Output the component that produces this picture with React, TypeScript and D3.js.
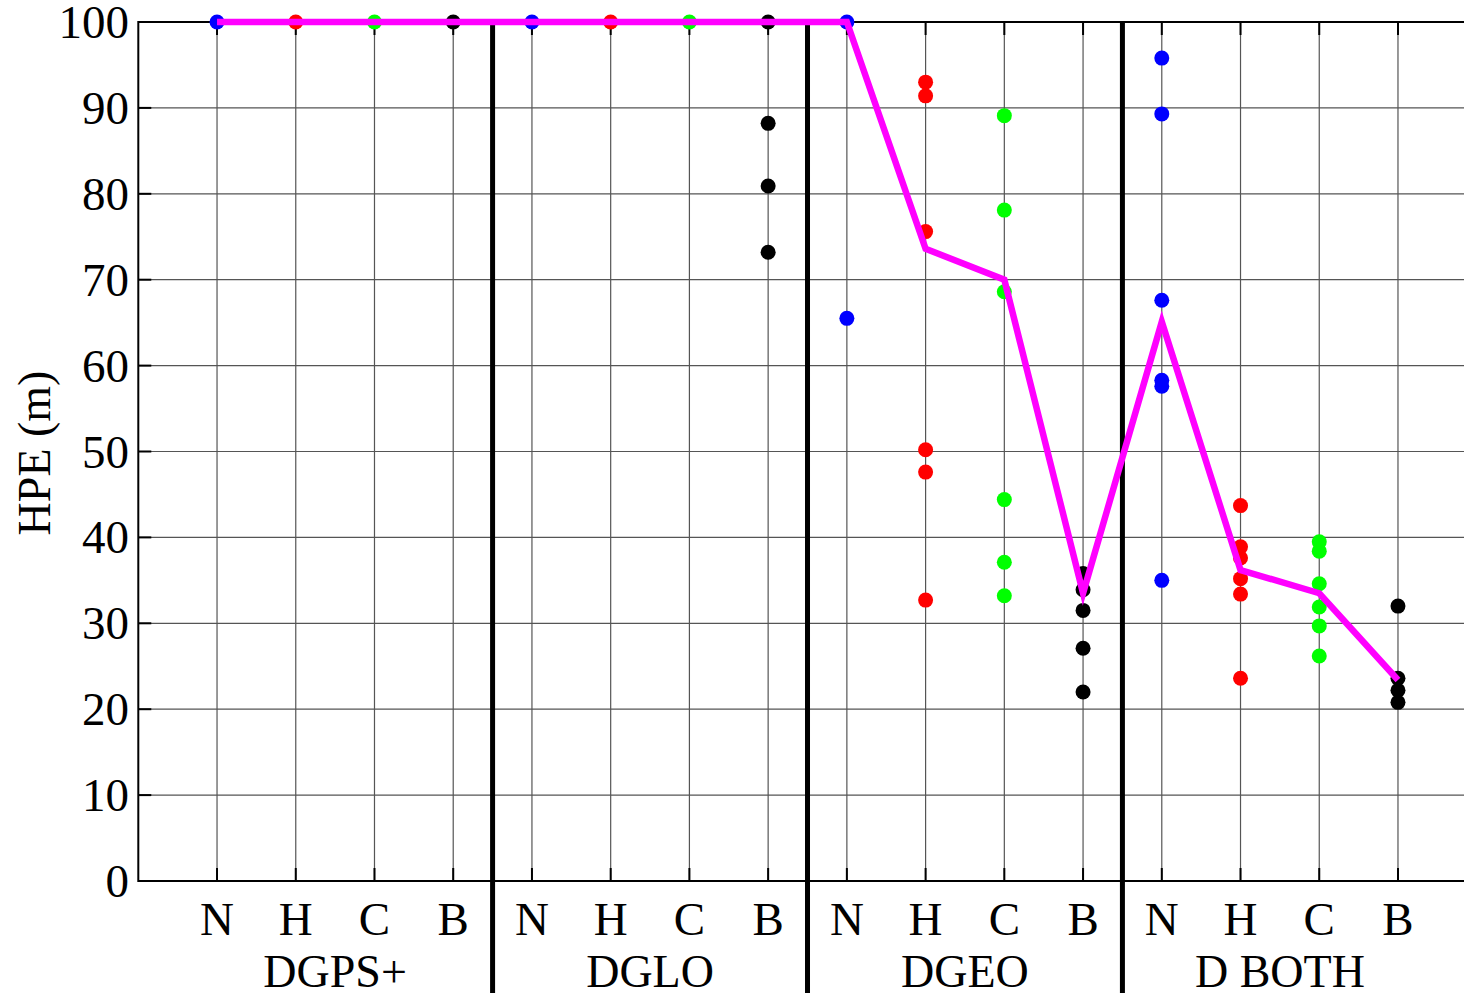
import React from "react";
import * as d3 from "d3";

const groups = ["DGPS+", "DGLO", "DGEO", "D BOTH"];
const conditions = ["N", "H", "C", "B"];
const conditionColors = ["#0000ff", "#ff0000", "#00ff00", "#000000"];
const yTicks = [0, 10, 20, 30, 40, 50, 60, 70, 80, 90, 100];

// per group: per condition: observed HPE values
const dgpsValues: number[][] = [[100], [100], [100], [100]];
const dgloValues: number[][] = [[100], [100], [100], [100, 88.2, 80.9, 73.2]];
const dgeoValues: number[][] = [
  [100, 65.5],
  [93.0, 91.4, 75.6, 50.2, 47.6, 32.7],
  [89.1, 78.1, 68.6, 44.4, 37.1, 33.2],
  [35.8, 33.9, 31.5, 27.1, 22.0],
];
const dbothValues: number[][] = [
  [95.8, 89.3, 67.6, 58.3, 57.6, 35.0],
  [43.7, 38.9, 37.6, 35.2, 33.4, 23.6],
  [39.5, 38.4, 34.6, 31.9, 29.7, 26.2],
  [32.0, 23.6, 22.2, 20.8],
];
const meanLine = [100, 100, 100, 100, 100, 100, 100, 100, 100, 73.6, 70.0, 33.5, 65.1, 36.2, 33.5, 23.4];

const allValues = [dgpsValues, dgloValues, dgeoValues, dbothValues];

const W = 1464;
const H = 993;
const left = 138.3;
const top = 22;
const bottom = 881;
const step = 78.73;

export default function App() {
  const x = d3.scaleLinear().domain([0, 17]).range([left, left + 17 * step]);
  const y = d3.scaleLinear().domain([0, 100]).range([bottom, top]);
  const nPos = groups.length * conditions.length;
  const positions = d3.range(1, nPos + 1);
  const line = d3
    .line<number>()
    .x((_, i) => x(i + 1))
    .y((d) => y(d));

  const points: { px: number; v: number; color: string }[] = [];
  allValues.forEach((g, gi) =>
    g.forEach((vals, ci) =>
      vals.forEach((v) => points.push({ px: gi * 4 + ci + 1, v, color: conditionColors[ci] }))
    )
  );

  const font = "'Liberation Serif', 'Times New Roman', serif";
  const grid = "#555";

  return (
    <svg
      width={W}
      height={H}
      style={{ position: "absolute", left: 0, top: 0, background: "#fff" }}
      fontFamily={font}
    >
      <rect x={0} y={0} width={W} height={H} fill="#fff" />
      {/* horizontal grid */}
      {yTicks.map((t) => (
        <line key={"hg" + t} x1={left} x2={W} y1={y(t)} y2={y(t)} stroke={grid} strokeWidth={1.2} />
      ))}
      {/* vertical grid */}
      {positions.map((p) => (
        <line key={"vg" + p} x1={x(p)} x2={x(p)} y1={top} y2={bottom} stroke={grid} strokeWidth={1.2} />
      ))}
      {/* ticks */}
      {yTicks.map((t) => (
        <line key={"yt" + t} x1={left} x2={left + 13} y1={y(t)} y2={y(t)} stroke="#000" strokeWidth={2} />
      ))}
      {positions.map((p) => (
        <g key={"xt" + p}>
          <line x1={x(p)} x2={x(p)} y1={top} y2={top + 13} stroke="#000" strokeWidth={2} />
          <line x1={x(p)} x2={x(p)} y1={bottom} y2={bottom - 13} stroke="#000" strokeWidth={2} />
        </g>
      ))}
      {/* axes */}
      <line x1={left} x2={W} y1={top} y2={top} stroke="#000" strokeWidth={2} />
      <line x1={left} x2={W} y1={bottom} y2={bottom} stroke="#000" strokeWidth={2} />
      <line x1={left} x2={left} y1={top - 1} y2={bottom + 1} stroke="#000" strokeWidth={2} />
      {/* separators */}
      {d3.range(1, groups.length).map((g) => (
        <line key={"sep" + g} x1={x(g * 4 + 0.5)} x2={x(g * 4 + 0.5)} y1={top} y2={H} stroke="#000" strokeWidth={5} />
      ))}
      {/* points */}
      {points.map((p, i) => (
        <circle key={"pt" + i} cx={x(p.px)} cy={y(p.v)} r={7.5} fill={p.color} />
      ))}
      {/* mean line */}
      <path d={line(meanLine) || ""} fill="none" stroke="#ff00ff" strokeWidth={6.5} strokeLinejoin="miter" />
      {/* y tick labels */}
      {yTicks.map((t) => (
        <text key={"yl" + t} x={129} y={y(t) + 16} fontSize={47} textAnchor="end" fill="#000">
          {t}
        </text>
      ))}
      {/* category labels */}
      {positions.map((p) => (
        <text key={"cl" + p} x={x(p)} y={935} fontSize={47} textAnchor="middle" fill="#000">
          {conditions[(p - 1) % 4]}
        </text>
      ))}
      {groups.map((g, gi) => (
        <text key={"gl" + g} x={x(gi * 4 + 2.5)} y={987} fontSize={46} textAnchor="middle" fill="#000">
          {g}
        </text>
      ))}
      <text
        transform={`translate(50, 453) rotate(-90)`}
        fontSize={46}
        textAnchor="middle"
        fill="#000"
      >
        HPE (m)
      </text>
    </svg>
  );
}
